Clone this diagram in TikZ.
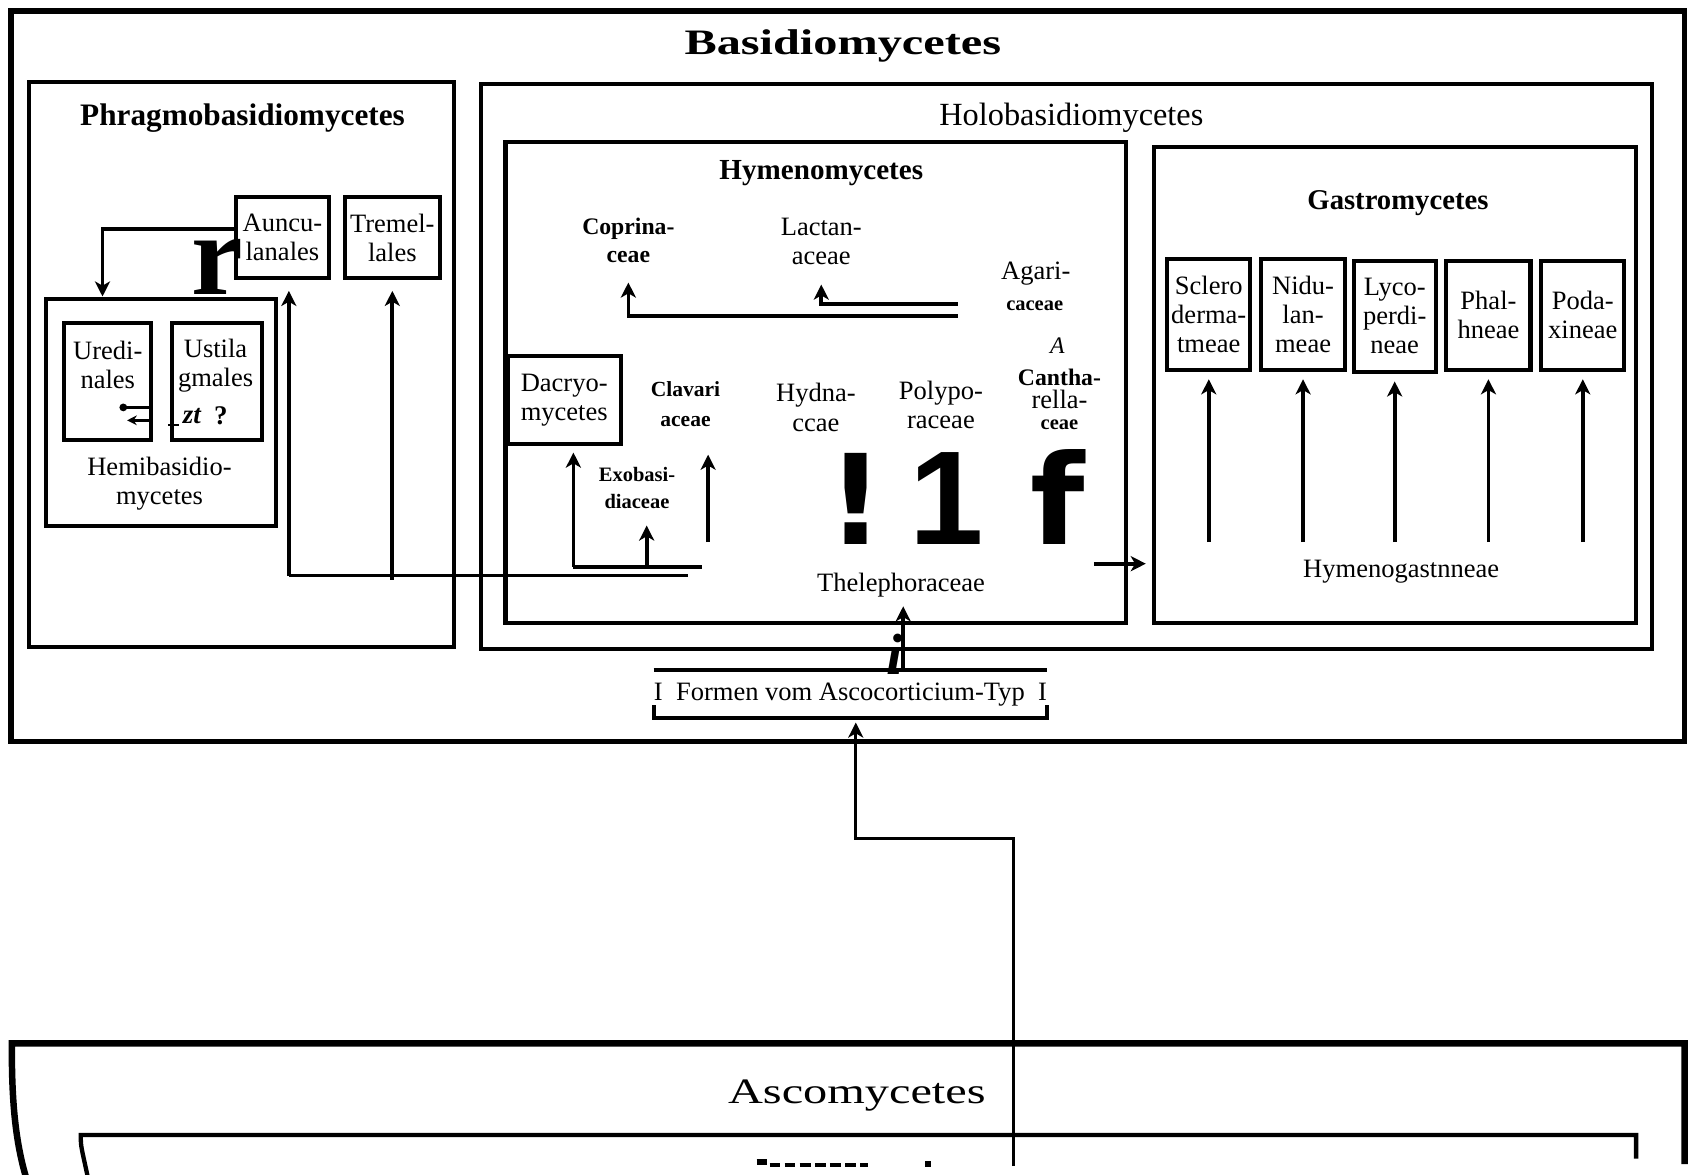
\documentclass[tikz,border=0pt]{standalone}
\usepackage{fontspec}
\setmainfont{Liberation Serif}
\newfontfamily\bigsans{DejaVu Sans}
\newfontfamily\arialsans{Liberation Sans}
\usetikzlibrary{arrows.meta,calc}
\begin{document}
\begin{tikzpicture}[x=0.5pt,y=-0.5pt,
  box/.style={draw,line width=1.9pt,inner sep=0pt},
  lbl/.style={font=\fontsize{12.3}{13.5}\selectfont,align=center,inner sep=0pt},
  blbl/.style={font=\fontsize{11}{13}\selectfont\bfseries,align=center,inner sep=0pt},
  smb/.style={font=\fontsize{9.5}{12.5}\selectfont\bfseries,align=center,inner sep=0pt},
  arr/.style={line width=1.7pt,-{Stealth[length=7pt,width=7pt,inset=2pt]}},
  ln/.style={line width=1.7pt},
  huge/.style={font=\bigsans\bfseries\fontsize{58}{58}\selectfont,inner sep=0pt,anchor=base},
]
\useasboundingbox (0,0) rectangle (1568,1090);
% ---------- containers
\node[box,line width=2.6pt,minimum width=776.5pt,minimum height=339pt] (basid) at (786.5,349) {};
\node[box,line width=2pt,minimum width=197pt,minimum height=262pt] (phrag) at (224,338) {};
\node[box,line width=2pt,minimum width=543.5pt,minimum height=262pt] (holo) at (989.5,340) {};
\node[box,minimum width=288pt,minimum height=223pt] (hymeno) at (757,355) {};
\node[box,minimum width=223.5pt,minimum height=221pt] (gastro) at (1294.5,357) {};
% ---------- titles
\node[font=\fontsize{16.6}{18}\selectfont\bfseries,inner sep=0pt] (tbasid) at (782,43) {\scalebox{1.35}[1]{Basidiomycetes}};
\node[font=\fontsize{14.5}{16}\selectfont\bfseries,inner sep=0pt] (tphrag) at (225,110) {Phragmobasidiomycetes};
\node[font=\fontsize{15}{16}\selectfont,inner sep=0pt] (tholo) at (994,109) {Holobasidiomycetes};
\node[font=\fontsize{13.5}{15}\selectfont\bfseries,inner sep=0pt] (thymeno) at (762,161) {Hymenomycetes};
\node[font=\fontsize{13.3}{15}\selectfont\bfseries,inner sep=0pt] (tgastro) at (1297,188) {Gastromycetes};
% ---------- Phragmobasidiomycetes
\node[box,lbl,minimum width=43pt,minimum height=37.5pt] (aunc) at (262,220.5) {Auncu-\\lanales};
\node[box,lbl,minimum width=44pt,minimum height=37.5pt] (tremel) at (364,220.5) {Tremel-\\lales};
\node[box,minimum width=106.5pt,minimum height=105.5pt] (hemi) at (149.5,382.5) {};
\node[lbl] (themi) at (148,449) {Hemibasidio-\\mycetes};
\node[box,minimum width=40.5pt,minimum height=54pt] (uredi) at (99.5,354) {};
\node[lbl] (turedi) at (100,339) {Uredi-\\nales};
\node[box,minimum width=41.5pt,minimum height=54pt] (ustil) at (201.5,354) {};
\node[lbl] (tustil) at (200,339) {Ustila\\gmales};
\node[font=\fontsize{12.5}{14}\selectfont\bfseries\itshape,inner sep=0pt] (zt) at (178,386) {zt};
\node[font=\fontsize{12.5}{14}\selectfont\bfseries,inner sep=0pt] (qm) at (205,386) {?};
\node[font=\fontsize{54}{54}\selectfont\bfseries,inner sep=0pt,anchor=base] (bigr) at (202,273) {r};
\draw[line width=1.3pt,-{Circle[length=3.5pt]}] ([yshift=-12pt]uredi.east) -- ++(-31,0);
\draw[line width=1.3pt,-{Stealth[length=4.5pt,width=4.5pt]}] ([yshift=-18pt]uredi.east) -- ++(-24,0);
\draw[line width=1pt] ([xshift=7pt,yshift=-20pt]uredi.east) -- ++(10,0);
% ---------- Hymenomycetes
\node[blbl] (copr) at (583,223) {Coprina-\\ceae};
\node[lbl] (lact) at (762,224) {Lactan-\\aceae};
\node[lbl] (agari) at (961,254) {Agari-};
\node[smb] (agari2) at (960,284) {caceae};
\node[font=\fontsize{11}{12}\selectfont\itshape,inner sep=0pt] (aa) at (981,321) {A};
\node[blbl] (cantha) at (983,350) {Cantha-};
\node[lbl] (rella) at (983,371) {rella-};
\node[smb] (ceae) at (983,394) {ceae};
\node[box,lbl,minimum width=52.5pt,minimum height=41pt] (dacryo) at (523.5,371) {Dacryo-\\mycetes};
\node[font=\fontsize{10}{14}\selectfont\bfseries,align=center,inner sep=0pt] (clav) at (636,375) {Clavari\\aceae};
\node[lbl] (hydna) at (757,378) {Hydna-\\ccae};
\node[lbl] (polyp) at (873,376) {Polypo-\\raceae};
\node[smb] (exob) at (591,453) {Exobasi-\\diaceae};
\node[huge] (g1) at (794,505) {!};
\node[huge,font=\arialsans\bfseries\fontsize{62}{62}\selectfont] (g2) at (878,505) {1};
\node[huge] (g3) at (981,505) {f};
\node[lbl] (thele) at (836,543) {Thelephoraceae};
% ---------- Gastromycetes
\node[box,lbl,minimum width=38.5pt,minimum height=51.5pt] (sclero) at (1121.5,291.5) {Sclero\\derma-\\tmeae};
\node[box,lbl,minimum width=39pt,minimum height=51.5pt] (nidu) at (1209,291.5) {Nidu-\\lan-\\meae};
\node[box,lbl,minimum width=38pt,minimum height=51.5pt] (lyco) at (1294,293.5) {Lyco-\\perdi-\\neae};
\node[box,lbl,minimum width=39pt,minimum height=50.5pt] (phal) at (1381,292.5) {Phal-\\hneae};
\node[box,lbl,minimum width=38.5pt,minimum height=50.5pt] (poda) at (1468.5,292.5) {Poda-\\xineae};
\node[lbl] (hymg) at (1300,530) {Hymenogastnneae};
\foreach \b in {sclero,nidu,lyco,phal,poda}
  \draw[arr] ([yshift=8pt]\b.south |- hymg.north) -- ([yshift=-3.5pt]\b.south);
% ---------- Formen
\node[lbl,minimum width=181pt,minimum height=22pt] (formen) at (789,644) {I\ \ Formen vom Ascocorticium-Typ\ \ I};
\draw[line width=1.9pt] (formen.north west) -- (formen.north east);
\draw[line width=1.9pt] ([yshift=6pt]formen.south west) -- (formen.south west) -- (formen.south east) -- ([yshift=6pt]formen.south east);
\node[font=\fontsize{27}{27}\selectfont\bfseries\itshape,inner sep=0pt,anchor=base] (bigi) at (830,626) {i};
% ---------- Ascomycetes
\draw[line width=3pt] (25,1095) .. controls (14,1060) and (11,1020) .. (11,975) -- (11,968) -- (1563,968) -- (1563,1080);
\draw[line width=2pt] (82,1095) .. controls (78,1075) and (75,1065) .. (75,1058) -- (75,1053) -- (1518,1053) -- (1518,1075);
\node[font=\fontsize{16.6}{18}\selectfont,inner sep=0pt] (asco) at (795,1016) {\scalebox{1.35}[1]{Ascomycetes}};
\draw[line width=2.5pt] (702,1078) -- (712,1078);
\draw[line width=1.5pt,dash pattern=on 5pt off 2pt] (714,1081) -- (805,1081);
\fill (858,1077) rectangle (864,1083);
% ---------- connectors
\coordinate (jl) at (268,534);
\coordinate (jr) at (638,534);
\draw[ln] (jl) -- (jr);
\draw[arr] (jl) -- ([xshift=3pt,yshift=-5pt]aunc.south);
\draw[arr] ([yshift=-2pt]tremel.south |- jl) -- ([yshift=-5pt]tremel.south);
\draw[arr] ([yshift=4pt]aunc.west) -| ([xshift=27pt]hemi.north west);
\coordinate (hj) at (532,526);
\draw[ln] (hj) -- ++(119,0);
\draw[arr] (hj) -- ([yshift=-3pt]hj |- dacryo.south);
\draw[arr] ([xshift=4.5pt]hj -| exob.south) -- ([xshift=4.5pt,yshift=-7.5pt]exob.south);
\coordinate (clavbase) at (657,503);
\draw[arr] (clavbase) -- ([yshift=-4pt]clavbase |- dacryo.south);
\draw[arr] ($(agari.west)+(-40,28)$) -| ([yshift=-9pt]lact.south);
\draw[arr] ($(agari.west)+(-40,39)$) -| ([yshift=-9pt]copr.south);
\coordinate (gstart) at (1015,523);
\draw[arr] (gstart) -- ([xshift=-3pt]gstart -| gastro.west);
\draw[arr] ([xshift=24.5pt]formen.north) -- ([xshift=24.5pt,yshift=-4pt]formen.north |- thele.south);
\coordinate (ascostart) at (940,1082);
\draw[arr,line width=1.4pt] (ascostart) -- ++(0,-304) -| ([xshift=2.5pt,yshift=-2pt]formen.south);
\end{tikzpicture}
\end{document}
